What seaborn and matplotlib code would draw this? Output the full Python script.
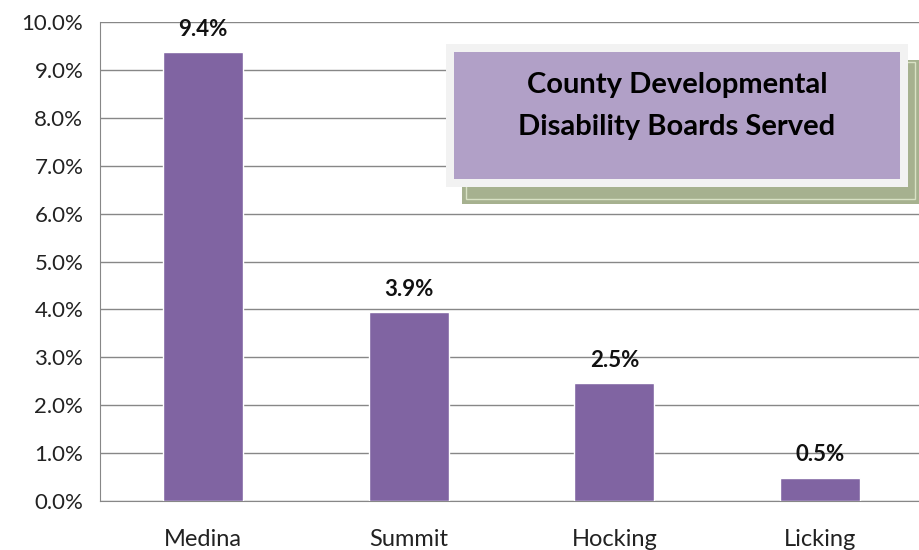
import matplotlib
matplotlib.use("Agg")
import matplotlib.pyplot as plt
from matplotlib.patches import Rectangle
from matplotlib.ticker import PercentFormatter, FixedLocator
import seaborn as sns
import pandas as pd

# data
counties = ["Medina", "Summit", "Hocking", "Licking"]
share = [0.0937, 0.0394, 0.0246, 0.0049]
bar_labels = ["9.4%", "3.9%", "2.5%", "0.5%"]
yticks = [0.0, 0.01, 0.02, 0.03, 0.04, 0.05, 0.06, 0.07, 0.08, 0.09, 0.10]
title_lines = "County Developmental\nDisability Boards Served"

sns.set_style("white")
plt.rcParams["font.family"] = ["Lato", "DejaVu Sans"]

W, H = 919, 550
fig = plt.figure(figsize=(W / 100, H / 100), dpi=100)
ax = fig.add_axes([100 / W, 49 / H, 823 / W, 479 / H])

df = pd.DataFrame({"county": counties, "share": share})
sns.barplot(data=df, x="county", y="share", color="#8064A2", saturation=1,
            width=0.39, ax=ax, zorder=3)

grid_c = "#878787"
ax.set_ylim(0, 0.10)
ax.set_xlim(-0.5, 3.5)
ax.yaxis.set_major_locator(FixedLocator(yticks))
ax.yaxis.set_major_formatter(PercentFormatter(1.0, decimals=1))
ax.grid(axis="y", color=grid_c, linewidth=1, zorder=0)
ax.set_axisbelow(True)
for s in ["top", "right"]:
    ax.spines[s].set_visible(False)
ax.spines["left"].set_color(grid_c)
ax.spines["bottom"].set_color(grid_c)
ax.tick_params(axis="y", direction="out", length=6, color=grid_c, width=1,
               labelsize=16, labelcolor="#222222", pad=6)
ax.tick_params(axis="x", which="major", length=0, labelsize=17,
               labelcolor="#222222", pad=20)
ax.set_xticks([-0.5, 0.5, 1.5, 2.5, 3.5], minor=True)
ax.tick_params(axis="x", which="minor", direction="out", length=7,
               color=grid_c, width=1)
ax.set_xlabel("")
ax.set_ylabel("")

for i, (v, lab) in enumerate(zip(share, bar_labels)):
    ax.annotate(lab, (i, v), xytext=(0, 9), textcoords="offset points",
                ha="center", va="bottom", fontsize=16, fontweight="bold",
                color="#111111")

# title box with shadow, in pixel coords converted to figure fraction
def rect(x0, y0, x1, y1, **kw):
    r = Rectangle((x0 / W, 1 - y1 / H), (x1 - x0) / W, (y1 - y0) / H,
                  transform=fig.transFigure, **kw)
    fig.patches.append(r)

rect(462, 60, 925, 204, facecolor="#A6B18F", edgecolor="none", zorder=5)
rect(466, 62, 915, 199, facecolor="none", edgecolor="#D9E2C5", linewidth=1, zorder=5)
rect(446, 44, 908, 187, facecolor="#F2F2F2", edgecolor="none", zorder=6)
rect(454, 52, 900, 179, facecolor="#B1A0C7", edgecolor="none", zorder=7)
fig.text(677 / W, 1 - 106 / H, title_lines, ha="center", va="center",
         fontsize=21, fontweight="bold", color="#000000", linespacing=1.75,
         zorder=8)

fig.savefig("out.png", dpi=100)
